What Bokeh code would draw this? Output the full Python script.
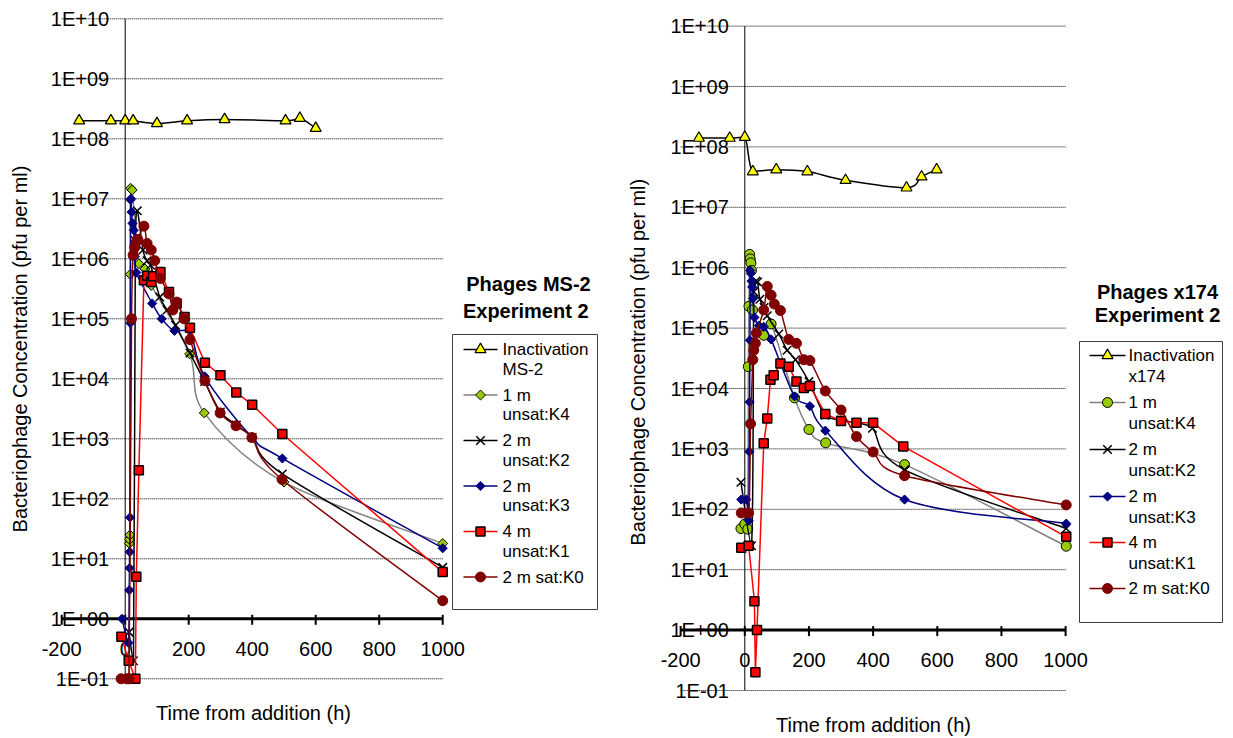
import math
import numpy as np
from bokeh.plotting import figure
from bokeh.models import Range1d
from bokeh.layouts import row
from bokeh.embed import file_html
from bokeh.resources import INLINE
from bokeh.core.properties import value

FONT = "Liberation Sans"

# ---------------- data: left chart (MS-2) ----------------
ms2_inact_x = [-145, -45, 0, 25, 100, 195, 313, 505, 550, 600]
ms2_inact_y = [2.0e8, 2.0e8, 2.0e8, 2.0e8, 1.8e8, 2.0e8, 2.1e8, 2.0e8, 2.2e8, 1.5e8]

ms2_k4_x = [4, 12, 13, 14, 15, 16, 17, 22, 43, 62, 82, 203, 249, 500, 1000]
ms2_k4_y = [0.1, 0.1, 18, 21, 25, 5.5e5, 1.5e7, 1.4e7, 8.3e5, 6.8e5, 3.6e5, 2.6e4, 2.7e3, 190, 18]

ms2_k2_x = [12, 26, 32, 38, 56, 69, 80, 109, 132, 159, 204, 250, 300, 350, 400, 495, 1000]
ms2_k2_y = [0.6, 0.2, 2.0e6, 6.3e6, 1.4e6, 9.3e5, 7.8e5, 2.3e5, 1.4e5, 7.8e4, 2.7e4, 9.0e3, 2.8e3, 1.7e3, 1.05e3, 260, 7.2]

ms2_k3_x = [-10, 10, 13, 14, 14.5, 15, 16, 17, 18, 20, 23, 27, 30, 35, 85, 115, 155, 203, 250, 400, 495, 1000]
ms2_k3_y = [1.0, 0.4, 3, 7, 13, 49, 8.5e4, 9.6e6, 1.0e7, 6.0e6, 3.9e6, 3.0e6, 1.1e6, 5.9e5, 1.8e5, 1.0e5, 6.3e4, 6.5e4, 1.1e4, 1.05e3, 470, 15]

ms2_k1_x = [-12, 11, 32, 35, 43, 59, 69, 82, 88, 111, 138, 162, 187, 204, 251, 300, 350, 400, 495, 1000]
ms2_k1_y = [0.5, 0.2, 0.1, 5, 300, 4.4e5, 5.2e5, 4.1e5, 5.1e5, 6.0e5, 2.8e5, 1.8e5, 1.07e5, 7.1e4, 1.85e4, 1.15e4, 5.9e3, 3.7e3, 1.2e3, 6]

ms2_k0_x = [-13, 4, 12, 20, 25, 30, 35, 40, 59, 69, 82, 93, 111, 138, 150, 162, 185, 204, 251, 299, 349, 399, 494, 1000]
ms2_k0_y = [0.1, 0.1, 0.1, 1.0e5, 1.15e6, 1.55e6, 1.9e6, 2.1e6, 3.5e6, 1.8e6, 1.4e6, 9.3e5, 4.7e5, 2.6e5, 1.4e5, 1.9e5, 1.0e5, 4.5e4, 9.3e3, 2.7e3, 1.65e3, 1.05e3, 210, 2]

# ---------------- data: right chart (x174) ----------------
x174_inact_x = [-143, -47, 0, 25, 98, 195, 314, 504, 551, 598]
x174_inact_y = [1.4e8, 1.4e8, 1.45e8, 3.9e7, 4.2e7, 3.9e7, 2.8e7, 2.1e7, 3.2e7, 4.2e7]

x174_k4_x = [-12, 0, 9, 11, 13, 15, 17, 19, 21, 24, 59, 82, 155, 200, 252, 498, 1002]
x174_k4_y = [48, 57, 47, 2.3e4, 2.3e5, 1.66e6, 1.4e6, 1.2e6, 9.0e5, 2.0e5, 7.6e4, 1.17e5, 7.0e3, 2.1e3, 1.26e3, 550, 24.5]

x174_k2_x = [-12, 21, 28, 35, 40, 47, 60, 70, 106, 132, 158, 200, 250, 300, 350, 398, 498, 1002]
x174_k2_y = [280, 25, 4.0e5, 6.0e5, 5.8e5, 3.0e5, 2.2e5, 1.6e5, 8.0e4, 4.3e4, 3.0e4, 1.3e4, 3.6e3, 3.0e3, 2.7e3, 2.2e3, 450, 48]

x174_k3_x = [-11, 5, 12, 14, 15, 16, 17, 19, 21, 23, 26, 30, 44, 59, 82, 155, 203, 251, 498, 1002]
x174_k3_y = [145, 145, 65, 900, 6.0e3, 6.3e4, 9.0e5, 8.0e5, 6.0e5, 4.8e5, 3.1e5, 1.5e5, 1.1e5, 1.05e5, 6.5e4, 7.4e3, 5.1e3, 2.0e3, 145, 58]

x174_k1_x = [-11, 12, 30, 33, 38, 59, 70, 80, 90, 111, 137, 161, 184, 203, 251, 300, 348, 400, 494, 1002]
x174_k1_y = [23, 25, 3, 0.2, 1.0, 1.24e3, 3.2e3, 1.4e4, 1.66e4, 2.6e4, 2.3e4, 1.3e4, 1.02e4, 1.1e4, 3.8e3, 2.9e3, 2.7e3, 2.7e3, 1.1e3, 35]

x174_k0_x = [-11, 12, 18, 25, 28, 33, 36, 59, 70, 82, 92, 111, 137, 161, 184, 203, 251, 300, 348, 400, 498, 1002]
x174_k0_y = [87, 87, 2.6e3, 3.0e4, 4.3e4, 5.6e4, 8.3e4, 2.0e5, 4.9e5, 3.5e5, 2.5e5, 1.95e5, 6.5e4, 5.6e4, 3.0e4, 2.9e4, 9.1e3, 4.4e3, 1.6e3, 890, 360, 118]

# ---------------- ticks & texts ----------------
x_ticks = [-200, 0, 200, 400, 600, 800, 1000]
x_tick_labels = ["-200", "0", "200", "400", "600", "800", "1000"]
y_ticks = [1e-1, 1e0, 1e1, 1e2, 1e3, 1e4, 1e5, 1e6, 1e7, 1e8, 1e9, 1e10]
y_tick_labels = ["1E-01", "1E+00", "1E+01", "1E+02", "1E+03", "1E+04",
                 "1E+05", "1E+06", "1E+07", "1E+08", "1E+09", "1E+10"]

ms2_legend = [["Inactivation", "MS-2"], ["1 m", "unsat:K4"], ["2 m", "unsat:K2"],
              ["2 m", "unsat:K3"], ["4 m", "unsat:K1"], ["2 m sat:K0"]]
x174_legend = [["Inactivation", "x174"], ["1 m", "unsat:K4"], ["2 m", "unsat:K2"],
               ["2 m", "unsat:K3"], ["4 m", "unsat:K1"], ["2 m sat:K0"]]

STYLES = [
    dict(line="#000000", marker="triangle", fill="#FFFF00", mline="#000000", size=11, mlw=1.2, angle=0.0, smooth=True),
    dict(line="#808080", marker="square", fill="#99CC00", mline="#000000", size=7, mlw=1.0, angle=math.pi / 4, smooth=True),
    dict(line="#000000", marker="x", fill=None, mline="#000000", size=12, mlw=1.5, angle=0.0, smooth=True),
    dict(line="#000080", marker="square", fill="#000080", mline="#000080", size=6.5, mlw=1.0, angle=math.pi / 4, smooth=True),
    dict(line="#FF0000", marker="square", fill="#FF0000", mline="#000000", size=9, mlw=1.5, angle=0.0, smooth=False),
    dict(line="#800000", marker="circle", fill="#800000", mline="#800000", size=10, mlw=1.0, angle=0.0, smooth=True),
]


def bezier_segments(xs, ys):
    x = np.asarray(xs, float)
    L = np.log10(np.asarray(ys, float))
    n = len(x)
    out = dict(x0=[], y0=[], x1=[], y1=[], cx0=[], cy0=[], cx1=[], cy1=[])
    for i in range(n - 1):
        a = max(i - 1, 0)
        b = min(i + 2, n - 1)
        lo, hi = min(L[i], L[i + 1]), max(L[i], L[i + 1])
        c1x = x[i] + (x[i + 1] - x[a]) / 6.0
        c1l = min(max(L[i] + (L[i + 1] - L[a]) / 6.0, lo), hi)
        c2x = x[i + 1] - (x[b] - x[i]) / 6.0
        c2l = min(max(L[i + 1] - (L[b] - L[i]) / 6.0, lo), hi)
        out["x0"].append(x[i]); out["y0"].append(10 ** L[i])
        out["x1"].append(x[i + 1]); out["y1"].append(10 ** L[i + 1])
        out["cx0"].append(c1x); out["cy0"].append(10 ** c1l)
        out["cx1"].append(c2x); out["cy1"].append(10 ** c2l)
    return out


def marker_kw(st, marker_override=None):
    m = marker_override or st["marker"]
    kw = dict(marker=m, size=st["size"], line_color=st["mline"], line_width=st["mlw"])
    if m == "circle" and marker_override:
        kw["size"] = 10
        kw["angle"] = 0.0
    else:
        kw["angle"] = st["angle"]
    kw["fill_color"] = st["fill"]
    return kw


def make_panel(cfg, series, legend_labels, title_lines, k4_marker):
    px0, sxp, py0, dec = cfg["px0"], cfg["sx"], cfg["py0"], cfg["dec"]
    left, top, w, h = cfg["left"], cfg["top"], cfg["w"], cfg["h"]

    def X(px):
        return (px - px0) / sxp

    def Y(py):
        return 10 ** ((py0 - py) / dec)

    p = figure(width=w, height=h, output_backend="svg", toolbar_location=None,
               x_range=Range1d(X(left), X(left + w)),
               y_range=Range1d(Y(top + h), Y(top)),
               y_axis_type="log", x_axis_location=None, y_axis_location=None,
               min_border=0, min_border_left=0, min_border_right=0,
               min_border_top=0, min_border_bottom=0)
    p.outline_line_color = None
    p.background_fill_color = "white"
    p.border_fill_color = "white"
    p.grid.visible = False

    # gridlines
    p.segment(x0=[-200] * len(y_ticks), y0=y_ticks, x1=[1000] * len(y_ticks), y1=y_ticks,
              line_color="#000000", line_width=1, line_dash="1 1")
    # y axis line
    p.segment(x0=[0], y0=[0.1], x1=[0], y1=[1e10], line_color="black", line_width=1)
    # x axis line at 1E+00
    p.segment(x0=[-200], y0=[1], x1=[1000], y1=[1], line_color="black", line_width=3)
    p.segment(x0=x_ticks, y0=[Y(py0 + 6)] * len(x_ticks), x1=x_ticks, y1=[Y(py0 - 4)] * len(x_ticks),
              line_color="black", line_width=2)

    # tick labels
    p.text(x=[X(px0 - 16)] * len(y_ticks), y=y_ticks, text=y_tick_labels,
           text_align="right", text_baseline="middle", text_font=value(FONT),
           text_font_size="20px", text_color="black")
    p.text(x=x_ticks, y=[Y(py0 + 30)] * len(x_ticks), text=x_tick_labels,
           text_align="center", text_baseline="middle", text_font=value(FONT),
           text_font_size="20px", text_color="black")

    # axis titles
    p.text(x=[X(cfg["xt_px"])], y=[Y(cfg["xt_py"])], text=["Time from addition (h)"],
           text_align="center", text_baseline="middle", text_font=value(FONT),
           text_font_size="20px", text_color="black")
    p.text(x=[X(cfg["yt_px"])], y=[Y(cfg["yt_py"])], text=[cfg["ytitle"]], angle=math.pi / 2,
           text_align="center", text_baseline="middle", text_font=value(FONT),
           text_font_size="20px", text_color="black")

    # series
    for i, (xs, ys) in enumerate(series):
        st = STYLES[i]
        if st["smooth"]:
            seg = bezier_segments(xs, ys)
            p.bezier(x0=seg["x0"], y0=seg["y0"], x1=seg["x1"], y1=seg["y1"],
                     cx0=seg["cx0"], cy0=seg["cy0"], cx1=seg["cx1"], cy1=seg["cy1"],
                     line_color=st["line"], line_width=1.5)
        else:
            p.line(xs, ys, line_color=st["line"], line_width=1.5)
        mo = k4_marker if i == 1 else None
        p.scatter(xs, ys, **marker_kw(st, mo))

    # title
    tx, ty1, ty2 = cfg["title"]
    p.text(x=[X(tx), X(tx)], y=[Y(ty1), Y(ty2)], text=title_lines,
           text_align="center", text_baseline="middle", text_font=value(FONT),
           text_font_size="20px", text_font_style="bold", text_color="black")

    # legend
    bl, bt, br, bb = cfg["lbox"]
    p.quad(left=[X(bl)], right=[X(br)], top=[Y(bt)], bottom=[Y(bb)],
           fill_color="white", line_color="#404040", line_width=1)
    l0, l1, lm, ltx = cfg["lsample"]
    for i, lab in enumerate(legend_labels):
        st = STYLES[i]
        ly = cfg["lrows"][i]
        p.line([X(l0), X(l1)], [Y(ly), Y(ly)], line_color=st["line"], line_width=1.5)
        mo = k4_marker if i == 1 else None
        p.scatter([X(lm)], [Y(ly)], **marker_kw(st, mo))
        p.text(x=[X(ltx)] * len(lab), y=[Y(ly + j * cfg["lgap"]) for j in range(len(lab))],
               text=lab, text_align="left", text_baseline="middle", text_font=value(FONT),
               text_font_size="17px", text_color="black")
    return p


cfg_left = dict(px0=124.7, sx=0.3175, py0=618.3, dec=60.0, left=0, top=0, w=620, h=736,
                xt_px=253, xt_py=712, yt_px=19, yt_py=348.5,
                ytitle="Bacteriophage Concentration (pfu per ml)",
                title=(528, 283, 310),
                lbox=(452, 334, 597, 609), lsample=(463, 497, 480, 502),
                lrows=[349, 394.5, 440, 485.5, 531, 576.5], lgap=19.5)
cfg_right = dict(px0=744.3, sx=0.3208, py0=629.6, dec=60.4, left=620, top=0, w=610, h=736,
                 xt_px=873, xt_py=724, yt_px=637, yt_py=359,
                 ytitle="Bacteriophage Concentration  (pfu per ml)",
                 title=(1157, 291, 314),
                 lbox=(1079, 341, 1222, 622), lsample=(1089, 1125, 1107, 1128),
                 lrows=[355, 402, 449, 496, 542, 588], lgap=20.5)

left_series = [(ms2_inact_x, ms2_inact_y), (ms2_k4_x, ms2_k4_y), (ms2_k2_x, ms2_k2_y),
               (ms2_k3_x, ms2_k3_y), (ms2_k1_x, ms2_k1_y), (ms2_k0_x, ms2_k0_y)]
right_series = [(x174_inact_x, x174_inact_y), (x174_k4_x, x174_k4_y), (x174_k2_x, x174_k2_y),
                (x174_k3_x, x174_k3_y), (x174_k1_x, x174_k1_y), (x174_k0_x, x174_k0_y)]

p1 = make_panel(cfg_left, left_series, ms2_legend, ["Phages MS-2", "Experiment  2"], None)
p2 = make_panel(cfg_right, right_series, x174_legend, ["Phages x174", "Experiment 2"], "circle")

layout = row(p1, p2)
open("out.html", "w").write(file_html(layout, INLINE))
